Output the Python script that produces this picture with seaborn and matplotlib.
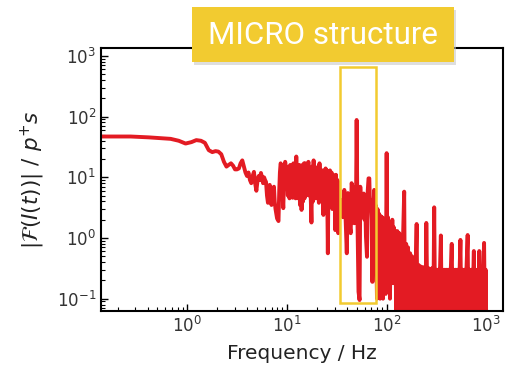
import numpy as np
import pandas as pd
import matplotlib
matplotlib.use("Agg")
import matplotlib.pyplot as plt
from matplotlib.patches import Rectangle
import seaborn as sns

# ---- data ----
freq_low = [0.137, 0.27, 0.41, 0.55, 0.68, 0.82, 0.96, 1.10, 1.23, 1.37, 1.50, 1.64, 1.78,
            1.92, 2.05, 2.19, 2.33, 2.47, 2.60, 2.74, 2.88, 3.01, 3.15, 3.29, 3.42, 3.56,
            3.70, 3.83, 3.97, 4.11, 4.25, 4.38, 4.52, 4.66, 4.79, 4.93, 5.07, 5.20, 5.34,
            5.48, 5.62, 5.75, 5.89, 6.03, 6.16, 6.30, 6.44, 6.57, 6.71, 6.85, 6.99, 7.12,
            7.26, 7.40, 7.53, 7.67, 7.81, 7.95, 8.08, 8.22, 8.36, 8.49, 8.63, 8.77, 8.90,
            9.04, 9.18, 9.32, 9.45, 9.59, 9.73, 9.86, 10.0]
amp_low = [47, 47, 45.5, 44, 43, 40, 36, 38, 41, 40, 37, 28, 26,
           27, 26.5, 24, 18, 15, 16, 17, 15.5, 13.5, 13.5, 14, 17, 19,
           15, 12, 10.5, 12, 9, 8, 10.5, 12.3, 8, 6, 9, 10.5, 9,
           11.8, 10, 8, 10, 9, 8.4, 5, 3.8, 6, 7.5, 5, 3.5, 5,
           6.5, 7, 4, 3, 2.5, 2.1, 2.0, 1.9, 6, 12, 17, 16, 8,
           5, 3.1, 8, 12, 18, 15, 9, 11.6]

freq_mid = [10.2, 10.4, 10.6, 10.8, 11.0, 11.2, 11.4, 11.6, 11.8, 12.0, 12.2, 12.4, 12.6,
            12.8, 13.0, 13.3, 13.5, 13.8, 14.0, 14.3, 14.5, 14.8, 15.0, 15.3, 15.5, 15.8,
            16.1, 16.4, 16.7, 17.0, 17.3, 17.6, 17.9, 18.2, 18.5, 18.8, 19.1, 19.5, 19.8,
            20.2, 20.5, 20.9, 21.2, 21.6, 22.0, 22.4, 22.8, 23.2, 23.6, 24.0, 24.4, 24.8,
            25.2, 25.7, 26.1, 26.6, 27.0, 27.5, 28.0, 28.5, 29.0, 29.5, 30.0, 30.5, 31.0,
            31.6, 32.1, 32.7, 33.2, 33.8]
amp_mid = [5, 15, 4.5, 16, 5, 12, 4.6, 17, 5, 14, 4.5, 22, 5,
           15, 4.5, 16, 3.5, 14, 2.9, 16, 4, 17, 4.5, 17, 5, 14,
           7, 18, 5, 13, 4.5, 1.8, 15, 4, 19, 5, 14, 4.5, 13,
           5, 15, 3.8, 17, 4.8, 12, 4, 13, 2.4, 12, 4, 14, 3.5,
           13, 0.56, 12, 3.5, 13, 3.3, 12, 3, 11, 3.3, 10, 1.35, 11,
           2.5, 9, 1.2, 8, 3]

freq_micro = [34.6, 35.4, 36.4, 37.6, 38.6, 39.8, 40.8, 41.9, 42.8, 43.6, 44.5, 45.5, 46.4,
              47.3, 48.3, 49.2, 50.0, 51.0, 52.2, 53.5, 54.4, 55.4, 56.5, 57.7, 58.9, 60.0,
              61.0, 62.0, 63.5, 64.6, 65.8, 67.0, 68.2, 69.5, 70.8, 71.7, 72.2, 73.5, 75.0,
              76.3, 77.5]
amp_micro = [3, 4.2, 2.2, 6.2, 2.5, 0.56, 5.5, 5.1, 1.5, 1.2, 8, 7, 2.5,
             1.75, 5, 3, 88, 1.75, 0.13, 0.095, 7, 3, 2.2, 4, 5.4, 2,
             4, 1.05, 0.49, 6, 9.6, 9.6, 3, 4.2, 2, 0.19, 0.19, 3, 6.2,
             1.5, 3.5]

freq_high = [80, 81, 83, 84, 86, 87, 89, 90, 92, 93, 95, 96, 98, 100, 102, 103, 105, 107,
             108, 110, 112, 114, 116, 118, 120, 122, 124,
             125, 128, 131, 134, 137, 140, 143, 146, 150, 153, 157, 160, 164, 168, 172,
             176, 180, 184, 188, 192, 196, 200, 204, 209, 214, 219, 224, 229, 234, 240,
             245, 250, 256, 262, 268, 274, 280, 287, 293, 300, 307, 314, 321, 329, 336,
             343, 350, 358, 366, 375, 384, 393, 402, 411, 420, 430, 440, 450, 460, 471,
             482, 493, 504, 516, 528, 540, 550, 563, 576, 590, 603, 617, 632, 650, 662,
             677, 693, 709, 725, 742, 750, 760, 777, 795, 814, 833, 850, 870, 890, 911,
             932, 950, 970, 985, 1000]
amp_high = [0.1, 3.0, 0.2, 2.5, 0.1, 2.3, 0.18, 2.2, 0.1, 2.1, 0.2, 2.0, 0.12, 25, 0.18,
            2.2, 0.2, 1.8, 0.1, 1.7, 0.2, 2.0, 0.18, 1.5, 0.2, 1.3, 0.15,
            0.04, 1.3, 0.03, 1.2, 0.03, 1.1, 0.03, 1.0, 5.8, 0.03, 0.8, 0.03, 0.7, 0.03, 0.56,
            0.03, 0.5, 0.09, 0.45, 0.03, 0.4, 1.7, 0.03, 0.36, 0.03, 0.34, 0.03, 0.33, 0.03, 0.33,
            0.03, 1.77, 0.09, 0.32, 0.03, 0.31, 0.03, 0.32, 0.03, 3.2, 0.03, 0.3, 0.03, 0.3, 0.03,
            0.3, 1.1, 0.03, 0.3, 0.03, 0.3, 0.03, 0.3, 0.03, 0.3, 0.03, 0.3, 0.8, 0.03, 0.3,
            0.03, 0.3, 0.03, 0.3, 0.03, 0.3, 0.93, 0.03, 0.3, 0.03, 0.3, 0.03, 0.3, 1.12, 0.03,
            0.3, 0.03, 0.3, 0.03, 0.3, 0.61, 0.03, 0.3, 0.03, 0.3, 0.03, 0.61, 0.03, 0.3, 0.03,
            0.3, 0.83, 0.03, 0.3, 0.03]

box_freq = [34, 77.5]
box_amp = [0.085, 660]
label_text = "MICRO structure"

RED = "#E31B23"
YELLOW = "#F2CB30"

freq = freq_low + freq_mid + freq_micro + freq_high
amp = amp_low + amp_mid + amp_micro + amp_high
df = pd.DataFrame({"f": freq, "a": amp})

sns.set_style("ticks")
plt.rcParams["font.family"] = ["DejaVu Sans"]
plt.rcParams["mathtext.fontset"] = "dejavusans"

fig = plt.figure(figsize=(5.1, 3.75), dpi=100)
ax = fig.add_axes([0.198, 0.171, 0.788, 0.701])

sns.lineplot(data=df, x="f", y="a", ax=ax, estimator=None, sort=False,
             color=RED, linewidth=2.8, zorder=2)

ax.set_xscale("log")
ax.set_yscale("log")
ax.set_xlim(0.136, 1466)
ax.set_ylim(0.063, 1350)

ax.add_patch(Rectangle((box_freq[0], box_amp[0]), box_freq[1] - box_freq[0],
                       box_amp[1] - box_amp[0], fill=False, edgecolor=YELLOW,
                       linewidth=1.8, zorder=3))

for s in ax.spines.values():
    s.set_linewidth(1.5)
    s.set_color("black")
ax.tick_params(axis="both", which="both", direction="in", top=False, right=False,
               labelsize=12, colors="#333333")
ax.tick_params(axis="both", which="major", length=5, width=1.0, color="black")
ax.tick_params(axis="both", which="minor", length=3, width=0.8, color="black")

ax.set_xlabel("Frequency / Hz", fontsize=14.5, color="#222222", labelpad=6)
ax.set_ylabel(r"$|\mathcal{F}(I(t))|\ /\ p^{+}s$", fontsize=15.5, color="#222222", labelpad=7)

# label box above the axes
shadow = Rectangle((0.380, 0.826), 0.514, 0.147, transform=fig.transFigure,
                   facecolor="#c8c8c8", edgecolor="none", alpha=0.6, zorder=9)
box = Rectangle((0.376, 0.835), 0.514, 0.147, transform=fig.transFigure,
                facecolor=YELLOW, edgecolor="none", zorder=10)
fig.patches.extend([shadow, box])
fig.text(0.633, 0.906, label_text, ha="center", va="center", color="white",
         fontsize=22.5, family=["Roboto", "Lato", "DejaVu Sans"], fontweight="normal", zorder=11)

fig.savefig("out.png", dpi=100)
